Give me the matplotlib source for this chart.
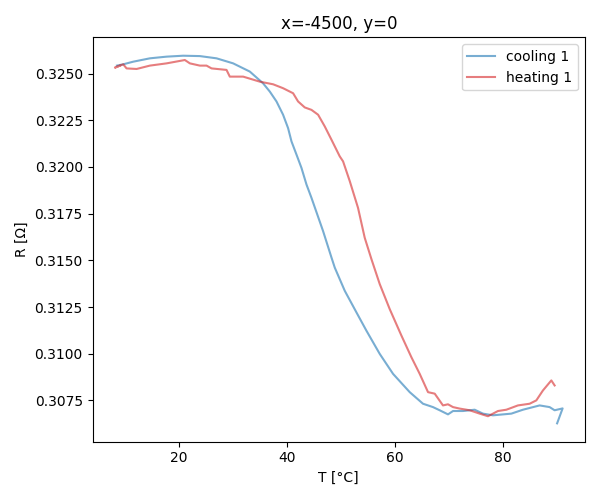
import matplotlib
matplotlib.use('Agg')
import matplotlib.pyplot as plt

# cooling run 1 (starts hot, ends cold)
t_cool = [90.09, 91.11, 89.63, 88.70, 86.85, 83.76, 81.61, 78.20, 76.35, 74.81,
          72.65, 70.80, 69.87, 68.33, 67.09, 65.24, 62.78, 59.69, 57.22, 54.76,
          52.91, 50.74, 48.89, 48.28, 46.72, 44.57, 43.65, 42.72, 41.80,
          40.87, 40.24, 39.31, 38.09, 36.85, 35.61, 33.15, 30.06, 26.98, 23.89,
          20.80, 17.72, 14.63, 11.54, 9.69, 8.52]
r_cool = [0.30627, 0.30707, 0.30697, 0.30714, 0.30723, 0.30700, 0.30679, 0.30670, 0.30679, 0.30700,
          0.30693, 0.30693, 0.30675, 0.30697, 0.30714, 0.30732, 0.30794, 0.30892, 0.30999, 0.31123,
          0.31221, 0.31337, 0.31461, 0.31515, 0.31657, 0.31835, 0.31906, 0.31995, 0.32066,
          0.32137, 0.32208, 0.32280, 0.32351, 0.32404, 0.32448, 0.32511, 0.32555, 0.32582, 0.32594,
          0.32596, 0.32591, 0.32582, 0.32564, 0.32550, 0.32543]

# heating run 1 (starts cold, ends hot)
t_heat = [9.07, 8.15, 9.69, 10.31, 12.17, 14.63, 17.72, 21.11, 22.04, 23.89,
          25.13, 26.06, 28.83, 29.44, 31.91, 35.00, 37.46, 39.31, 41.17, 42.09,
          43.33, 44.57, 45.80, 47.04, 48.28, 49.81, 50.43, 51.67, 53.20, 54.44,
          55.69, 57.22, 59.07, 61.24, 63.09, 64.63, 66.17, 67.41, 68.94, 69.87,
          70.80, 72.04, 73.89, 75.74, 77.28, 79.13, 80.69, 82.83, 85.00, 86.24,
          87.46, 89.02, 89.63]
r_heat = [0.32543, 0.32532, 0.32550, 0.32528, 0.32525, 0.32543, 0.32555, 0.32573, 0.32555, 0.32543,
          0.32543, 0.32528, 0.32520, 0.32484, 0.32484, 0.32457, 0.32443, 0.32422, 0.32395, 0.32351,
          0.32319, 0.32306, 0.32280, 0.32217, 0.32146, 0.32057, 0.32030, 0.31924, 0.31781, 0.31621,
          0.31506, 0.31373, 0.31239, 0.31097, 0.30981, 0.30892, 0.30794, 0.30786, 0.30723, 0.30729,
          0.30714, 0.30706, 0.30697, 0.30679, 0.30665, 0.30693, 0.30700, 0.30723, 0.30732, 0.30750,
          0.30803, 0.30857, 0.30830]

fig, ax = plt.subplots(figsize=(6, 5), dpi=100)
ax.plot(t_cool, r_cool, color='tab:blue', alpha=0.6, label='cooling 1')
ax.plot(t_heat, r_heat, color='tab:red', alpha=0.6, label='heating 1')

ax.set_xlabel('T [°C]')
ax.set_ylabel('R [Ω]')
ax.set_title('x=-4500, y=0')
ax.legend(loc='upper right')

plt.tight_layout()
plt.savefig('out.png', dpi=100)
